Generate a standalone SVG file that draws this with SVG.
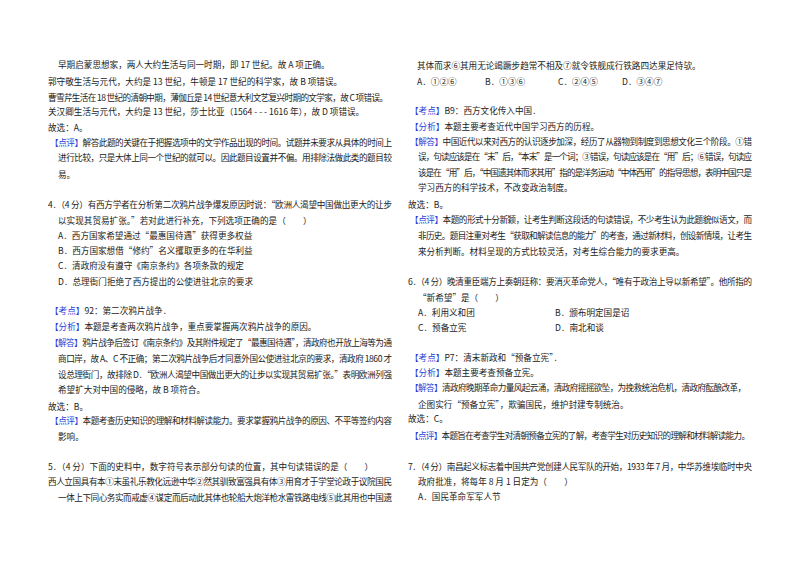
<svg xmlns="http://www.w3.org/2000/svg" width="800" height="565" viewBox="0 0 800 565">
<style>
text{font-family:"Noto Sans CJK SC","Liberation Sans",sans-serif;font-size:8.6px;fill:#222}
.b{fill:#2b3fd6}
</style>
<rect width="800" height="565" fill="#fff"/>
<g id="left">
<text x="58" y="68">早期启蒙思想家，两人大约生活与同一时期，即 17 世纪。故 A 项正确。</text>
<text x="48" y="85">郭守敬生活与元代，大约是 13 世纪，牛顿是 17 世纪的科学家，故 B 项错误。</text>
<text x="48" y="101" textLength="340" lengthAdjust="spacing">曹雪芹生活在 18 世纪的清朝中期，薄伽丘是 14 世纪意大利文艺复兴时期的文学家，故 C 项错误。</text>
<text x="48" y="115">关汉卿生活与元代，大约是 13 世纪，莎士比亚（1564 - - - 1616 年），故 D 项错误。</text>
<text x="48" y="131">故选：A。</text>
<text x="50" y="146" textLength="342" lengthAdjust="spacing"><tspan class="b">【点评】</tspan>解答此题的关键在于把握选项中的文学作品出现的时间。试题并未要求从具体的时间上</text>
<text x="58" y="161" textLength="334" lengthAdjust="spacing">进行比较，只是大体上同一个世纪的就可以。因此题目设置并不偏。用排除法做此类的题目较</text>
<text x="58" y="178">易。</text>
<text x="48" y="208" textLength="344" lengthAdjust="spacing">4．（4 分）有西方学者在分析第二次鸦片战争爆发原因时说：“欧洲人渴望中国做出更大的让步</text>
<text x="58" y="224">以实现其贸易扩张。”若对此进行补充，下列选项正确的是（　　）</text>
<text x="58" y="239">A．西方国家希望通过“最惠国待遇”获得更多权益</text>
<text x="58" y="254">B．西方国家想借“修约”名义攫取更多的在华利益</text>
<text x="58" y="269">C．清政府没有遵守《南京条约》各项条款的规定</text>
<text x="58" y="285">D．总理衙门拒绝了西方提出的公使进驻北京的要求</text>
<text x="50" y="314"><tspan class="b">【考点】</tspan>92：第二次鸦片战争．</text>
<text x="50" y="330"><tspan class="b">【分析】</tspan>本题是考查两次鸦片战争，重点要掌握两次鸦片战争的原因。</text>
<text x="50" y="346" textLength="342" lengthAdjust="spacing"><tspan class="b">【解答】</tspan>鸦片战争后签订《南京条约》及其附件规定了“最惠国待遇”，清政府也开放上海等为通</text>
<text x="58" y="362" textLength="334" lengthAdjust="spacing">商口岸，故 A、C 不正确；第二次鸦片战争后才同意外国公使进驻北京的要求，清政府 1860 才</text>
<text x="58" y="378" textLength="334" lengthAdjust="spacing">设总理衙门，故排除 D．“欧洲人渴望中国做出更大的让步以实现其贸易扩张。”表明欧洲列强</text>
<text x="58" y="393">希望扩大对中国的侵略，故 B 项符合。</text>
<text x="48" y="410">故选：B。</text>
<text x="50" y="424" textLength="342" lengthAdjust="spacing"><tspan class="b">【点评】</tspan>本题考查历史知识的理解和材料解读能力。要求掌握鸦片战争的原因、不平等签约内容</text>
<text x="58" y="440">影响。</text>
<text x="48" y="470">5．（4 分）下面的史料中，数字符号表示部分句读的位置，其中句读错误的是（　　）</text>
<text x="48" y="485" textLength="344" lengthAdjust="spacing">西人立国具有本①末虽礼乐教化远逊中华②然其驯致富强具有体③用育才于学堂论政于议院国民</text>
<text x="58" y="501" textLength="334" lengthAdjust="spacing">一体上下同心务实而戒虚④谋定而后动此其体也轮船大炮洋枪水雷铁路电线⑤此其用也中国遗</text>
</g>
<g id="right">
<text x="417" y="69">其体而求⑥其用无论竭蹶步趋常不相及⑦就令铁舰成行铁路四达果足恃欤。</text>
<text x="417" y="85">A．①②⑥</text>
<text x="485" y="85">B．①③⑥</text>
<text x="558" y="85">C．②④⑤</text>
<text x="622" y="85">D．③④⑦</text>
<text x="410" y="114"><tspan class="b">【考点】</tspan>B9：西方文化传入中国．</text>
<text x="410" y="130"><tspan class="b">【分析】</tspan>本题主要考查近代中国学习西方的历程。</text>
<text x="410" y="145" textLength="342" lengthAdjust="spacing"><tspan class="b">【解答】</tspan>中国近代以来对西方的认识逐步加深，经历了从器物到制度到思想文化三个阶段。①错</text>
<text x="418" y="160" textLength="334" lengthAdjust="spacing">误，句读应该是在“末”后，“本末”是一个词；③错误，句读应该是在“用”后；⑥错误，句读应</text>
<text x="418" y="176" textLength="334" lengthAdjust="spacing">该是在“用”后，“中国遗其体而求其用”指的是洋务运动“中体西用”的指导思想，表明中国只是</text>
<text x="418" y="191">学习西方的科学技术，不改变政治制度。</text>
<text x="408" y="208">故选：B。</text>
<text x="410" y="223" textLength="342" lengthAdjust="spacing"><tspan class="b">【点评】</tspan>本题的形式十分新颖，让考生判断这段话的句读错误，不少考生认为此题貌似语文，而</text>
<text x="418" y="239" textLength="334" lengthAdjust="spacing">非历史。题目注重对考生“获取和解读信息的能力”的考查，通过新材料，创设新情境，让考生</text>
<text x="418" y="255">来分析判断。材料呈现的方式比较灵活，对考生综合能力的要求更高。</text>
<text x="408" y="285" textLength="344" lengthAdjust="spacing">6．（4 分）晚清重臣端方上奏朝廷称：要消灭革命党人，“唯有于政治上导以新希望”。他所指的</text>
<text x="418" y="301">“新希望”是（　　）</text>
<text x="418" y="316">A．利用义和团</text>
<text x="555" y="316">B．颁布明定国是诏</text>
<text x="418" y="331">C．预备立宪</text>
<text x="555" y="331">D．南北和谈</text>
<text x="410" y="361"><tspan class="b">【考点】</tspan>P7：清末新政和“预备立宪”．</text>
<text x="410" y="376"><tspan class="b">【分析】</tspan>本题主要考查预备立宪。</text>
<text x="410" y="391" textLength="336" lengthAdjust="spacing"><tspan class="b">【解答】</tspan>清政府晚期革命力量风起云涌，清政府摇摇欲坠，为挽救统治危机，清政府酝酿改革，</text>
<text x="418" y="408">企图实行“预备立宪”，欺骗国民，维护封建专制统治。</text>
<text x="408" y="422">故选：C。</text>
<text x="410" y="439" textLength="340" lengthAdjust="spacing"><tspan class="b">【点评】</tspan>本题旨在考查学生对清朝预备立宪的了解，考查学生对历史知识的理解和材料解读能力。</text>
<text x="408" y="470" textLength="344" lengthAdjust="spacing">7．（4 分）南昌起义标志着中国共产党创建人民军队的开始，1933 年 7 月，中华苏维埃临时中央</text>
<text x="418" y="485">政府批准，将每年 8 月 1 日定为（　　）</text>
<text x="418" y="500">A．国民革命军军人节</text>
</g>
</svg>
